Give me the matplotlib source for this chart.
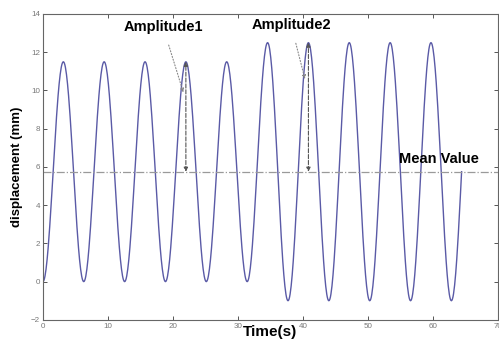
import numpy as np
import matplotlib
matplotlib.use("Agg")
import matplotlib.pyplot as plt

# extrema of the displacement signal
peak_times = [0.0, 3.14, 6.28, 9.42, 12.57, 15.71, 18.85, 21.99, 25.13, 28.27,
              31.42, 34.56, 37.70, 40.84, 43.98, 47.12, 50.27, 53.41, 56.55,
              59.69, 62.83]
peak_values = [0.0, 11.5, 0.0, 11.5, 0.0, 11.5, 0.0, 11.5, 0.0, 11.5,
               0.0, 12.5, -1.0, 12.5, -1.0, 12.5, -1.0, 12.5, -1.0, 12.5, -1.0]
end_time = 64.4
end_value = 5.75

mean_value = 5.75
amp1_time, amp1_top = 21.99, 11.5
amp2_time, amp2_top = 40.84, 12.5

x_ticks = [0, 10, 20, 30, 40, 50, 60, 70]
y_ticks = [-2, 0, 2, 4, 6, 8, 10, 12, 14]


def build_curve():
    ts, ys = [], []
    for i in range(len(peak_times) - 1):
        t0, t1 = peak_times[i], peak_times[i + 1]
        v0, v1 = peak_values[i], peak_values[i + 1]
        s = np.linspace(0, 1, 40)
        ts.append(t0 + (t1 - t0) * s)
        ys.append(v0 + (v1 - v0) * (1 - np.cos(np.pi * s)) / 2)
    # last quarter wave up to the end of the record
    t0, v0 = peak_times[-1], peak_values[-1]
    s = np.linspace(0, 1, 20)
    ts.append(t0 + (end_time - t0) * s)
    ys.append(v0 + (end_value - v0) * (1 - np.cos(np.pi / 2 * s)))
    return np.concatenate(ts), np.concatenate(ys)


plt.rcParams["font.family"] = ["Liberation Sans", "DejaVu Sans"]
fig = plt.figure(figsize=(4.99, 3.41), dpi=100)
ax = fig.add_axes([0.086, 0.062, 0.912, 0.897])

t, y = build_curve()
ax.plot(t, y, color="#5a5aa6", linewidth=1.0)
ax.axhline(mean_value, color="#9a9a9a", linestyle="-.", linewidth=0.9)

# vertical amplitude arrows
for at, top in [(amp1_time, amp1_top), (amp2_time, amp2_top)]:
    ax.annotate("", xy=(at, top), xytext=(at, mean_value),
                arrowprops=dict(arrowstyle="<|-|>", linestyle="--", color="#555555",
                                linewidth=0.8, mutation_scale=6, shrinkA=0, shrinkB=0))

ax.annotate("Amplitude1", xy=(21.6, 9.9), xytext=(18.5, 13.3),
            ha="center", va="center", fontsize=10.5, fontweight="bold",
            arrowprops=dict(arrowstyle="-|>", linestyle=":", color="#888888",
                            linewidth=0.8, mutation_scale=5, shrinkA=6, shrinkB=0))
ax.annotate("Amplitude2", xy=(40.3, 10.6), xytext=(38.2, 13.4),
            ha="center", va="center", fontsize=10.5, fontweight="bold",
            arrowprops=dict(arrowstyle="-|>", linestyle=":", color="#888888",
                            linewidth=0.8, mutation_scale=5, shrinkA=6, shrinkB=0))
ax.text(60.9, 6.4, "Mean Value", ha="center", va="center",
        fontsize=10.5, fontweight="bold")

ax.set_xlim(0, 70)
ax.set_ylim(-2, 14)
ax.set_xticks(x_ticks)
ax.set_yticks(y_ticks)
ax.tick_params(direction="in", length=3, width=0.7, labelsize=5.8,
               labelcolor="#777777", color="#555555", top=True, right=True, pad=2)
for sp in ax.spines.values():
    sp.set_color("#666666")
    sp.set_linewidth(0.8)

ax.set_xlabel("Time(s)", fontsize=11, fontweight="bold", labelpad=-3)
ax.set_ylabel("displacement (mm)", fontsize=9.5, fontweight="bold", labelpad=6)

fig.savefig("out.png", dpi=100)
